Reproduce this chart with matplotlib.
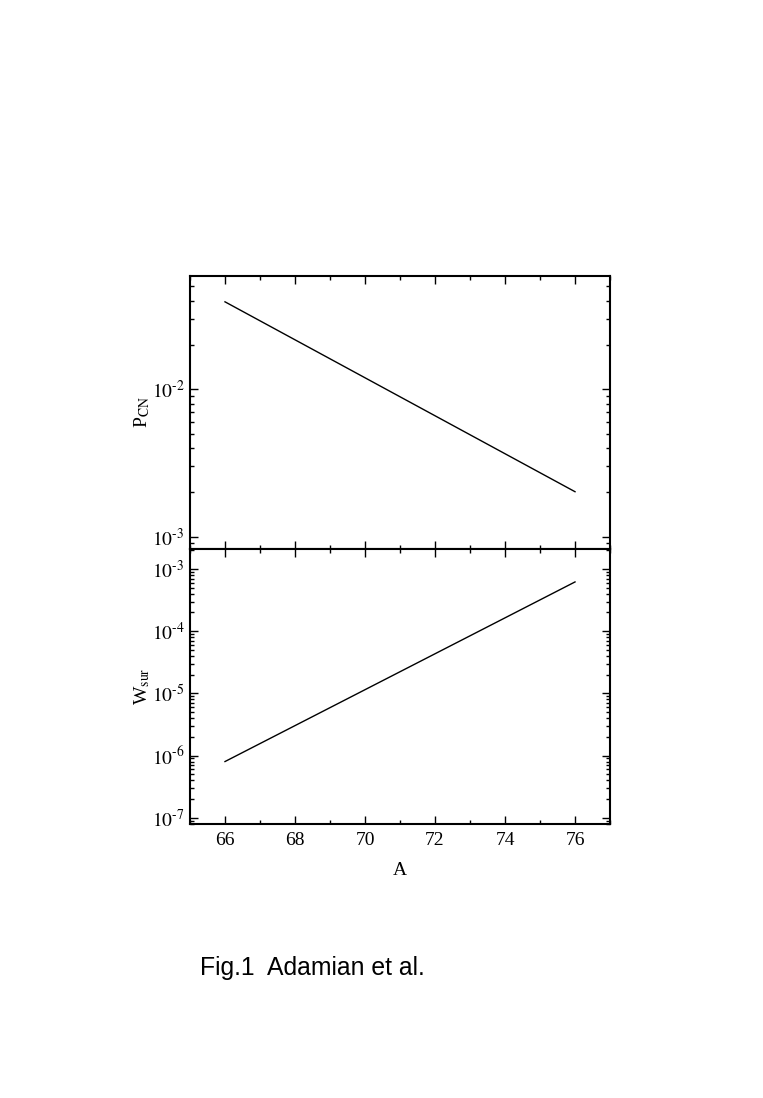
import matplotlib
matplotlib.use('Agg')
import matplotlib.pyplot as plt
from matplotlib.ticker import LogLocator, MultipleLocator, NullFormatter, FuncFormatter
import numpy as np

# values (straight lines on log scale)
A = [66, 76]
P_CN = [3.93e-2, 2.02e-3]
W_sur = [8.0e-7, 6.2e-4]

x_ticks = [66, 68, 70, 72, 74, 76]

plt.rcParams['font.family'] = ['Liberation Serif', 'DejaVu Serif']
plt.rcParams['mathtext.fontset'] = 'stix'


def pow_fmt(v, pos):
    e = int(round(np.log10(v)))
    return r'$10^{\text{-}%d}$' % (-e)


fig = plt.figure(figsize=(7.63, 10.98), dpi=100)
ax1 = fig.add_axes([0.249, 0.5, 0.5505, 0.2486])
ax2 = fig.add_axes([0.249, 0.2495, 0.5505, 0.2505])

ax1.plot(A, P_CN, color='black', lw=1.0)
ax2.plot(A, W_sur, color='black', lw=1.0)

ax1.set_ylim(8.25e-4, 5.88e-2)
ax2.set_ylim(7.9e-8, 2.1e-3)

for ax in (ax1, ax2):
    ax.set_yscale('log')
    ax.set_xlim(65, 77)
    ax.xaxis.set_major_locator(MultipleLocator(2))
    ax.xaxis.set_minor_locator(MultipleLocator(1))
    ax.yaxis.set_major_locator(LogLocator(base=10))
    ax.yaxis.set_minor_locator(LogLocator(base=10, subs=range(2, 10)))
    ax.yaxis.set_major_formatter(FuncFormatter(pow_fmt))
    ax.yaxis.set_minor_formatter(NullFormatter())
    ax.tick_params(which='both', direction='in', top=True, right=True,
                   width=1.0, labelsize=14, pad=4)
    ax.tick_params(which='major', length=6)
    ax.tick_params(which='minor', length=3)
    for s in ax.spines.values():
        s.set_linewidth(1.5)

ax1.set_xticks(x_ticks)
ax1.tick_params(labelbottom=False)
ax2.set_xticks(x_ticks)
ax2.set_xticklabels([str(t) for t in x_ticks])
ax2.tick_params(axis='x', pad=6)

ax1.set_ylabel(r'P$_{\rm CN}$', fontsize=14, labelpad=0)
ax2.set_ylabel(r'W$_{\rm sur}$', fontsize=14, labelpad=0)
ax2.set_xlabel('A', fontsize=14, labelpad=9)

fig.text(0.262, 0.112, 'Fig.1  Adamian et al.', fontsize=17.8,
         family='Liberation Sans', ha='left', va='baseline')

fig.savefig('out.png', dpi=100)
